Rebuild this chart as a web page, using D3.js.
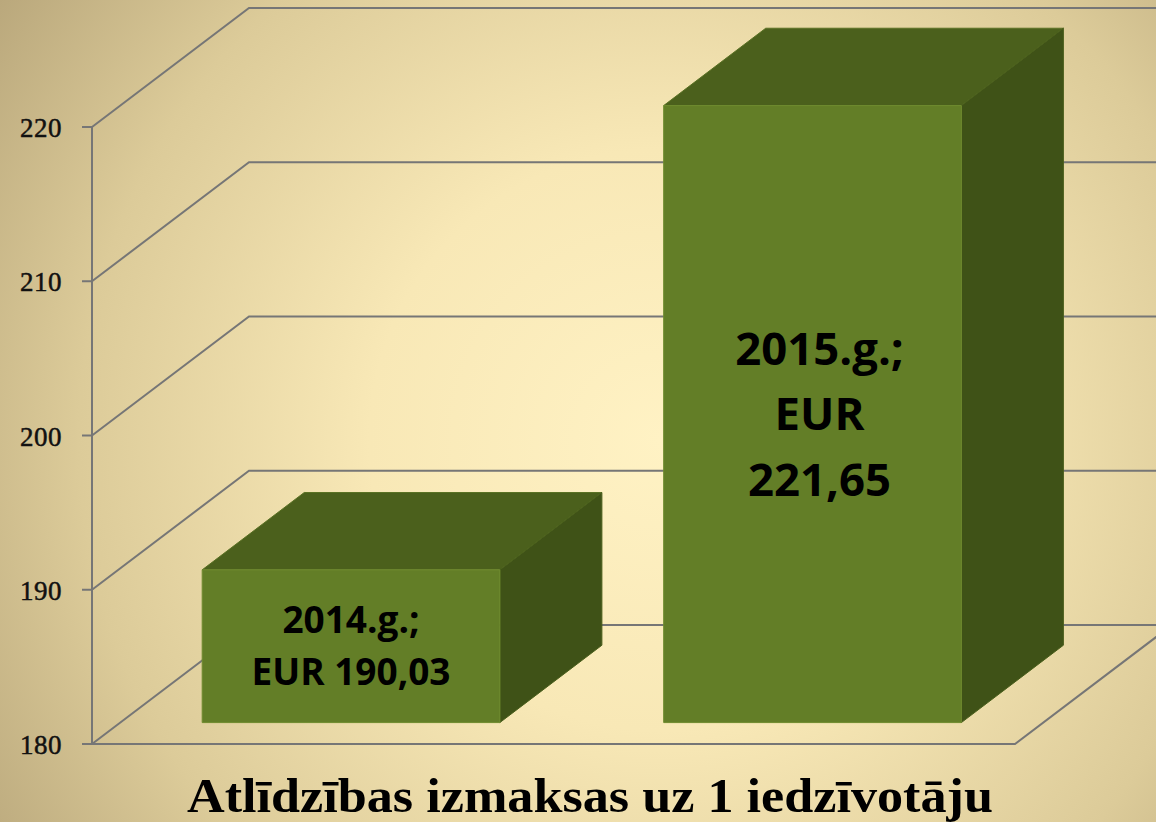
<!DOCTYPE html>
<html>
<head>
<meta charset="utf-8">
<script src="https://cdn.jsdelivr.net/npm/d3@7"></script>
<style>
  html, body { margin: 0; padding: 0; overflow: hidden; }
  svg { display: block; }
</style>
</head>
<body>
<div id="chart"></div>
<script>
const categories = ["2014", "2015"];
// bar heights as read against the value axis
const barValues = [189.9, 220.0];
const labelLines = [["2014.g.;", "EUR 190,03"], ["2015.g.;", "EUR", "221,65"]];
const yTicks = [180, 190, 200, 210, 220];
const title = "Atlīdzības izmaksas uz 1 iedzīvotāju";

const width = 1156, height = 822;
const plot = { left: 92, right: 1015, top: 127, bottom: 744 };
const depth = { dx: 157, dy: -119 };   // offset of the back wall
const barZ = [0.18, 0.83];             // bars sit in the middle of the depth

const svg = d3.select("#chart").append("svg")
  .attr("width", width)
  .attr("height", height);

// background
const grad = svg.append("defs").append("radialGradient")
  .attr("id", "bg")
  .attr("gradientUnits", "userSpaceOnUse")
  .attr("cx", 660).attr("cy", 440).attr("r", 830);
grad.append("stop").attr("offset", 0).attr("stop-color", "#fff2c4");
grad.append("stop").attr("offset", 0.35).attr("stop-color", "#f8e8b6");
grad.append("stop").attr("offset", 0.7).attr("stop-color", "#dccb99");
grad.append("stop").attr("offset", 1).attr("stop-color", "#b4a277");

svg.append("rect")
  .attr("width", width)
  .attr("height", height)
  .attr("fill", "url(#bg)");

const y = d3.scaleLinear()
  .domain([180, 220])
  .range([plot.bottom, plot.top]);

const x = d3.scaleBand()
  .domain(categories)
  .range([plot.left, plot.right])
  .paddingInner(0.355)
  .paddingOuter(0.1775);

const project = (px, py, z) => [px + z * depth.dx, py + z * depth.dy];
const line = d3.line();

// walls and gridlines
const grid = svg.append("g")
  .attr("fill", "none")
  .attr("stroke", "#767676")
  .attr("stroke-width", 2);

yTicks.forEach(t => {
  grid.append("path").attr("d", line([
    project(plot.left, y(t), 0),
    project(plot.left, y(t), 1),
    project(width + 40, y(t), 1)
  ]));
});

grid.append("path").attr("d", line([
  project(plot.left, y(180), 0),
  project(plot.right, y(180), 0),
  project(plot.right, y(180), 1)
]));

// value axis
grid.append("path").attr("d", line([[plot.left, y(220)], [plot.left, y(180)]]));
yTicks.forEach(t => {
  grid.append("path").attr("d", line([[plot.left - 10, y(t)], [plot.left, y(t)]]));
});

svg.append("g")
  .selectAll("text")
  .data(yTicks)
  .join("text")
  .attr("x", 62)
  .attr("y", d => y(d) + 10)
  .attr("text-anchor", "end")
  .attr("font-family", "'Liberation Serif', serif")
  .attr("font-size", 27)
  .attr("letter-spacing", 0.5)
  .attr("fill", "#111")
  .attr("stroke", "#111")
  .attr("stroke-width", 0.5)
  .text(d => d);

// bars
const bars = svg.append("g");
categories.forEach((c, i) => {
  const x0 = x(c), x1 = x(c) + x.bandwidth();
  const y0 = y(180), y1 = y(barValues[i]);
  const [z0, z1] = barZ;
  const g = bars.append("g").attr("stroke-width", 1);

  g.append("path")
    .attr("d", line([project(x0, y1, z0), project(x1, y1, z0), project(x1, y1, z1), project(x0, y1, z1)]) + "Z")
    .attr("fill", "#4b601c").attr("stroke", "#5a7124");
  g.append("path")
    .attr("d", line([project(x1, y1, z0), project(x1, y1, z1), project(x1, y0, z1), project(x1, y0, z0)]) + "Z")
    .attr("fill", "#3f5217").attr("stroke", "#4a5f1c");
  g.append("path")
    .attr("d", line([project(x0, y1, z0), project(x1, y1, z0), project(x1, y0, z0), project(x0, y0, z0)]) + "Z")
    .attr("fill", "#637e27").attr("stroke", "#6f8b2f");

  // data label
  const fs = i === 0 ? 37 : 45.5;
  const lh = i === 0 ? 52 : 65.5;
  const [cx, cy] = project((x0 + x1) / 2, (y0 + y1) / 2, z0);
  const lines = labelLines[i];
  const first = cy - (lines.length - 1) / 2 * lh + 0.714 * fs / 2;
  g.append("g")
    .selectAll("text")
    .data(lines)
    .join("text")
    .attr("x", cx + (i === 0 ? 0 : 7))
    .attr("y", (d, j) => first + j * lh)
    .attr("text-anchor", "middle")
    .attr("font-family", "'Open Sans', sans-serif")
    .attr("font-weight", 700)
    .attr("font-size", fs)
    .attr("fill", "#000")
    .attr("stroke", "none")
    .text(d => d);
});

// title
svg.append("text")
  .attr("x", 590)
  .attr("y", 812)
  .attr("text-anchor", "middle")
  .attr("font-family", "'Liberation Serif', serif")
  .attr("font-weight", 700)
  .attr("font-size", 48)
  .attr("textLength", 806)
  .attr("lengthAdjust", "spacingAndGlyphs")
  .attr("fill", "#000")
  .text(title);
</script>
</body>
</html>
